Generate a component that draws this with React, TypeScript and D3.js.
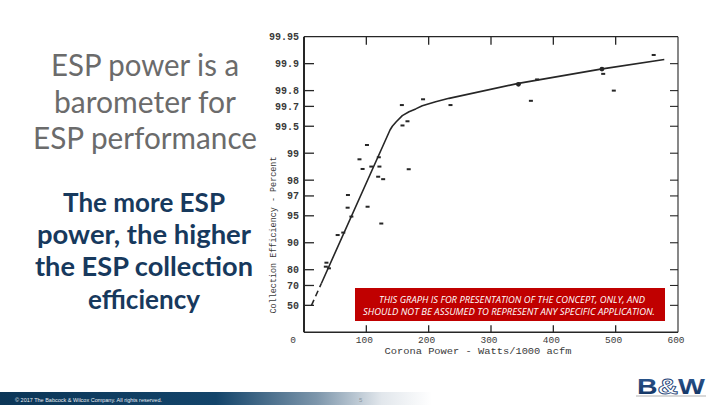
import React from 'react';
import * as d3 from 'd3';

const W = 720;
const H = 405;

// Slide text
const titleLines = ['ESP power is a', 'barometer for', 'ESP performance'];
const subLines = ['The more ESP', 'power, the higher', 'the ESP collection', 'efficiency'];
const disclaimerLines = [
  'THIS GRAPH IS FOR PRESENTATION OF THE CONCEPT, ONLY, AND',
  'SHOULD NOT BE ASSUMED TO REPRESENT ANY SPECIFIC APPLICATION.',
];

// Axes
const yTickValues = [99.95, 99.9, 99.8, 99.7, 99.5, 99, 98, 97, 95, 90, 80, 70, 50];
const yTickLabels = ['99.95', '99.9', '99.8', '99.7', '99.5', '99', '98', '97', '95', '90', '80', '70', '50'];
const xTickValues = [0, 100, 200, 300, 400, 500, 600];
const xTickLabels = ['0', '100', '200', '300', '400', '500', '600'];

// Fitted curve (corona power W/1000 acfm, collection efficiency %)
const curveDashPower = [12, 28];
const curveDashEff = [50, 71.7];
const curvePower = [28, 138, 141.7, 148, 157.7, 168.5, 179.2, 189.8, 211.2, 232.6, 344, 476, 578];
const curveEff = [71.7, 99.45, 99.5, 99.555, 99.62, 99.656, 99.68, 99.705, 99.734, 99.756, 99.834, 99.885, 99.91];

// Observed data points
const pointPower = [561, 480, 497, 374, 364, 191, 235, 157, 158, 166, 168, 101, 120, 89, 94, 108, 121, 119, 127, 70.5, 70, 102, 76, 124, 54, 63, 36, 40, 35];
const pointEff = [99.92, 99.87, 99.8, 99.85, 99.74, 99.75, 99.71, 99.71, 99.51, 99.56, 98.49, 99.19, 98.89, 98.83, 98.5, 98.59, 98.59, 98.17, 98.05, 97.07, 95.94, 96.04, 94.9, 93.9, 91.8, 92.3, 83.3, 80.7, 81.5];
const bigPointPower = [344, 478];
const bigPointEff = [99.83, 99.885];

export default function App() {
  const x = d3.scaleLinear().domain([0, 600]).range([304, 678]);
  const yPen = d3.scaleLog().domain([100, 0.05]).range([332.3, 36.7]);
  const y = (e: number) => yPen(100 - e);
  const x0 = x(0), x1 = x(600), yTop = y(99.95), yBot = yPen(100);

  const line = d3.line<number>().x((d, i) => x(curvePower[i])).y((d, i) => y(curveEff[i])).curve(d3.curveLinear);
  const dashLine = d3.line<number>().x((d, i) => x(curveDashPower[i])).y((d, i) => y(curveDashEff[i]));

  const ink = '#262626';
  const mono = '"Liberation Mono", "DejaVu Sans Mono", monospace';

  return (
    <svg width={W} height={H} style={{ position: 'absolute', left: 0, top: 0, background: '#fff' }}>
      <defs>
        <linearGradient id="foot" x1="0" x2="1" y1="0" y2="0">
          <stop offset="0" stopColor="#0c3657" />
          <stop offset="0.3" stopColor="#13446a" />
          <stop offset="0.44" stopColor="#7d96ab" />
          <stop offset="0.53" stopColor="#e2e7ec" />
          <stop offset="0.6" stopColor="#ffffff" />
        </linearGradient>
        <linearGradient id="logo" x1="0" x2="0" y1="0" y2="1">
          <stop offset="0" stopColor="#2d5a94" />
          <stop offset="1" stopColor="#0f2f5c" />
        </linearGradient>
      </defs>
      <rect x={0} y={0} width={W} height={H} fill="#fff" />

      {/* Left text */}
      {titleLines.map((t, i) => (
        <text key={t} x={145} y={76 + i * 36.5} textAnchor="middle" fontFamily="Lato, 'Open Sans', sans-serif" fontSize={30} fill="#6b6b6b"
          textLength={[188, 182, 224][i]} lengthAdjust="spacingAndGlyphs">{t}</text>
      ))}
      {subLines.map((t, i) => (
        <text key={t} x={144} y={212 + i * 32.2} textAnchor="middle" fontFamily="Lato, 'Open Sans', sans-serif" fontWeight={700} fontSize={26} fill="#17395d"
          textLength={[162, 214, 218, 112][i]} lengthAdjust="spacingAndGlyphs">{t}</text>
      ))}

      {/* Plot frame */}
      <g stroke={ink} fill="none">
        <line x1={x0} x2={x0} y1={yTop} y2={yBot} strokeWidth={2} />
        <line x1={x0} x2={x1} y1={yBot} y2={yBot} strokeWidth={1.5} />
        <line x1={x0} x2={x1} y1={yTop} y2={yTop} strokeWidth={1.3} />
        <line x1={x1} x2={x1} y1={yTop} y2={yBot} strokeWidth={1.1} />
        {yTickValues.slice(1).map(v => (
          <g key={v}>
            <line x1={x0} x2={x0 + 10} y1={y(v)} y2={y(v)} strokeWidth={1.3} />
            <line x1={x1} x2={x1 - 8} y1={y(v)} y2={y(v)} strokeWidth={1.1} />
          </g>
        ))}
        {xTickValues.slice(1, 6).map(v => (
          <g key={v}>
            <line x1={x(v)} x2={x(v)} y1={yTop} y2={yTop + 8} strokeWidth={1.3} />
            <line x1={x(v)} x2={x(v)} y1={yBot} y2={yBot - 7} strokeWidth={1.3} />
          </g>
        ))}
      </g>

      {/* Tick labels */}
      {yTickValues.map((v, i) => (
        <text key={v} x={299} y={y(v) + 3.5} textAnchor="end" fontFamily={mono} fontSize={10} fontWeight={700} fill="#3a3a3a">{yTickLabels[i]}</text>
      ))}
      {xTickValues.map((v, i) => (
        <text key={v} x={x(v) - (v === 0 ? 11 : 2)} y={342.5} textAnchor="middle" fontFamily={mono} fontSize={9.5} fill="#3a3a3a">{xTickLabels[i]}</text>
      ))}
      <text x={478} y={353.5} textAnchor="middle" fontFamily={mono} fontSize={9.5} fill="#3a3a3a" textLength={187} lengthAdjust="spacingAndGlyphs">Corona Power - Watts/1000 acfm</text>
      <text transform={`translate(276,235) rotate(-90)`} textAnchor="middle" fontFamily={mono} fontSize={9.5} fill="#3a3a3a" textLength={157} lengthAdjust="spacingAndGlyphs">Collection Efficiency - Percent</text>

      {/* Curve */}
      <path d={dashLine(curveDashPower) || ''} fill="none" stroke={ink} strokeWidth={1.6} strokeDasharray="6 4" />
      <path d={line(curvePower) || ''} fill="none" stroke={ink} strokeWidth={1.6} strokeLinejoin="round" />

      {/* Points */}
      {pointPower.map((p, i) => (
        <rect key={i} x={x(p) - 2} y={y(pointEff[i]) - 1} width={4} height={2} fill={ink} />
      ))}
      {bigPointPower.map((p, i) => (
        <circle key={i} cx={x(p)} cy={y(bigPointEff[i])} r={2.4} fill={ink} />
      ))}

      {/* Disclaimer */}
      <rect x={355} y={288} width={310} height={33} fill="#c00000" />
      {disclaimerLines.map((t, i) => (
        <text key={t} x={[512, 509][i]} y={303 + i * 12} textAnchor="middle" fontFamily="'Open Sans', sans-serif" fontStyle="italic" fontSize={9} fill="#fff"
          textLength={[266, 292][i]} lengthAdjust="spacingAndGlyphs">{t}</text>
      ))}

      {/* Footer */}
      <rect x={0} y={392} width={W} height={13} fill="url(#foot)" />
      <text x={15} y={401.5} fontFamily="'Liberation Sans', Arial, sans-serif" fontSize={5.5} fill="#e8eef3" textLength={147} lengthAdjust="spacingAndGlyphs">© 2017 The Babcock &amp; Wilcox Company. All rights reserved.</text>
      <text x={359} y={401.5} fontFamily="'Liberation Sans', Arial, sans-serif" fontSize={6} fill="#8a96a0">5</text>

      {/* Logo */}
      <rect x={636} y={395} width={70} height={2} fill="#d8d8d8" />
      <text x={637} y={394} fontFamily="'Liberation Sans', Arial, sans-serif" fontWeight={900} fontSize={22} fill="url(#logo)" textLength={68} lengthAdjust="spacingAndGlyphs">
        B<tspan fill="#fff" stroke="#1d4478" strokeWidth={0.8}>&amp;</tspan>W
      </text>
    </svg>
  );
}
